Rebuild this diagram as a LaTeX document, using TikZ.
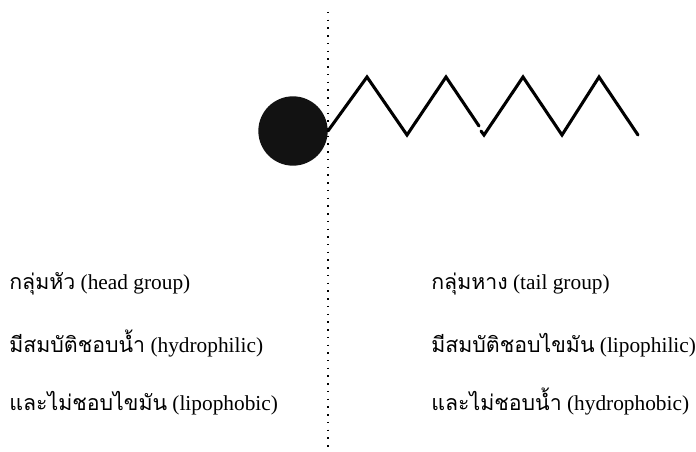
\documentclass[tikz,border=0pt]{standalone}
\usepackage{fontspec}
\setmainfont{Liberation Serif}
\newfontfamily\thaifont[Script=Thai]{Loma}
\tikzset{
	lbl/.style={anchor=base west,inner sep=0pt,font=\fontsize{16}{19}\selectfont},
	chain/.style={line width=2.3pt,line join=miter,line cap=round}
}
\begin{document}
\begin{tikzpicture}[x=0.75pt,y=-0.75pt]
				\useasboundingbox (0,0) rectangle (696,452);
				\coordinate (top) at (328,12);
				\coordinate (bot) at (328,452);
				\draw[line width=1.1pt,dash pattern=on 1.1pt off 4.7pt] (top) -- (bot);
				\node[circle,fill=black!93,minimum size=52pt,inner sep=0pt] (head) at (293,131) {};
				\draw[chain] (head.east) -- (367,77) -- (407,135) -- (446,77) -- (479,126);
				\draw[chain] (481,131) -- (484,135) -- (523,77) -- (562,135) -- (599,77) -- (638,135);
				\node[lbl] (h1) at (9,290) {{\thaifont กลุ่มหัว} (head group)};
				\node[lbl] (h2) at (9,352) {{\thaifont มีสมบัติชอบน้ำ} (hydrophilic)};
				\node[lbl] (h3) at (9,410) {{\thaifont และไม่ชอบไขมัน} (lipophobic)};
				\node[lbl] (t1) at (431,290) {{\thaifont กลุ่มหาง} (tail group)};
				\node[lbl] (t2) at (431,352) {{\thaifont มีสมบัติชอบไขมัน} (lipophilic)};
				\node[lbl] (t3) at (431,410) {{\thaifont และไม่ชอบน้ำ} (hydrophobic)};
\end{tikzpicture}
\end{document}
